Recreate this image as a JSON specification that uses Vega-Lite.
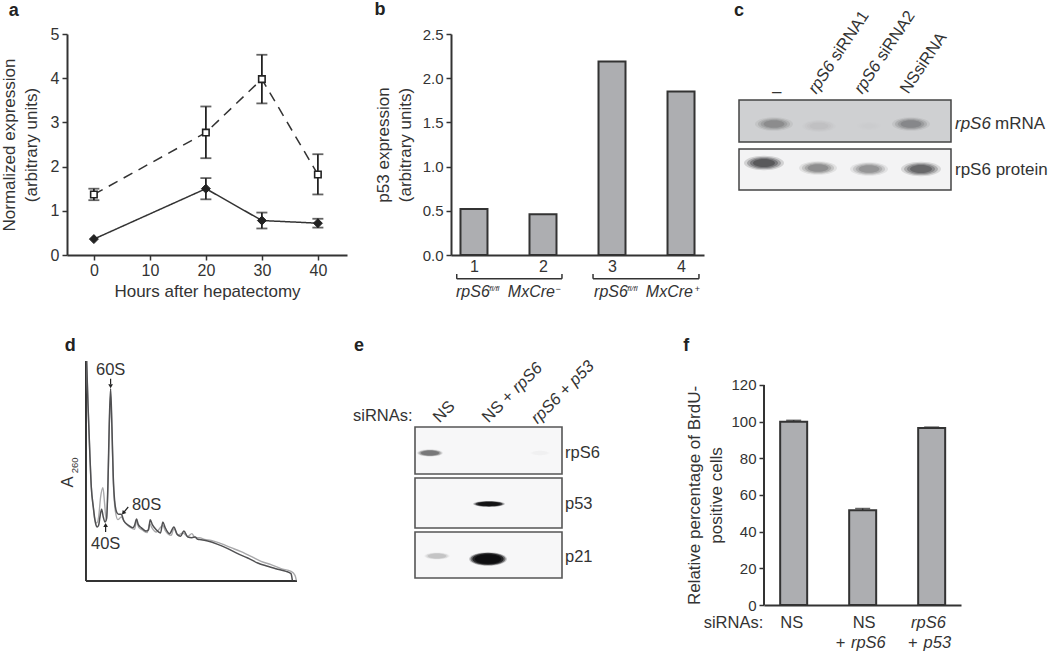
{
"$schema":"https://vega.github.io/schema/vega-lite/v6.json",
"padding":{"left":0,"top":1,"right":0,"bottom":0},
"background":"white",
"columns":6,
"spacing":{"row":106,"column":0},
"bounds":"flush",
"resolve":{"scale":{"shape":"independent","size":"independent","opacity":"independent","fill":"independent","strokeDash":"independent","color":"independent"}},
"config":{
 "view":{"stroke":null},
 "font":"Liberation Sans",
 "axis":{"grid":false,"domainColor":"#333","domainWidth":2,"tickColor":"#333","tickWidth":1.5,"tickSize":5,"labelColor":"#333","titleColor":"#333","labelFont":"Liberation Sans","titleFont":"Liberation Sans","labelFontSize":15,"titleFontSize":17,"titleFontWeight":"normal","labelPadding":3,"labelOverlap":false,"labelFlush":false,"titleLineHeight":22},
 "text":{"font":"Liberation Sans","color":"#333","fontSize":16.5,"align":"left","baseline":"middle"}
},
"datasets":{
 "a":[
  {"x":0,"y":1.37,"s":"open"},{"x":20,"y":2.77,"s":"open"},{"x":30,"y":3.98,"s":"open"},{"x":40,"y":1.82,"s":"open"},
  {"x":0,"y":0.36,"s":"filled"},{"x":20,"y":1.5,"s":"filled"},{"x":30,"y":0.78,"s":"filled"},{"x":40,"y":0.72,"s":"filled"}],
 "aErr":[{"x":0,"y":1.24,"y2":1.5},{"x":20,"y":2.19,"y2":3.36},{"x":30,"y":3.43,"y2":4.53},{"x":40,"y":1.37,"y2":2.28},{"x":20,"y":1.26,"y2":1.74},{"x":30,"y":0.6,"y2":0.96},{"x":40,"y":0.62,"y2":0.82}],
 "aCap":[{"x":0,"y":1.24},{"x":0,"y":1.5},{"x":20,"y":2.19},{"x":20,"y":3.36},{"x":30,"y":3.43},{"x":30,"y":4.53},{"x":40,"y":1.37},{"x":40,"y":2.28},{"x":20,"y":1.26},{"x":20,"y":1.74},{"x":30,"y":0.6},{"x":30,"y":0.96},{"x":40,"y":0.62},{"x":40,"y":0.82}],
 "cBands":[
  {"x":35,"y":90,"len":38,"d":0.42,"form":"fat"},{"x":80,"y":92,"len":34,"d":0.08,"form":"fat"},{"x":130,"y":92,"len":26,"d":0.015,"form":"fat"},{"x":172,"y":90,"len":38,"d":0.45,"form":"fat"},
  {"x":25,"y":129,"len":40,"d":1,"form":"fat"},{"x":79,"y":134,"len":38,"d":0.55,"form":"fat"},{"x":130,"y":135,"len":38,"d":0.5,"form":"fat"},{"x":182,"y":135,"len":40,"d":0.85,"form":"fat"}],
 "eBands":[
  {"x":15,"y":92,"len":26,"d":0.3,"form":"mid"},{"x":74,"y":143,"len":32,"d":0.9,"form":"thin"},{"x":22,"y":195,"len":26,"d":0.1,"form":"mid"},{"x":73,"y":198,"len":38,"d":1,"form":"fat"},{"x":125,"y":92,"len":22,"d":0.012,"form":"mid"}],
 "dDark":[{"x":2,"y":660},{"x":6,"y":532},{"x":12,"y":372},{"x":16,"y":282},{"x":22,"y":222},{"x":28,"y":177},{"x":34,"y":162},{"x":38,"y":167},{"x":42,"y":192},{"x":47,"y":215},{"x":52,"y":192},{"x":57,"y":177},{"x":62,"y":187},{"x":66,"y":292},{"x":70,"y":472},{"x":74,"y":577},{"x":78,"y":462},{"x":82,"y":312},{"x":86,"y":242},{"x":92,"y":207},{"x":98,"y":200},{"x":106,"y":200},{"x":114,"y":180},{"x":128,"y":167},{"x":141,"y":160},{"x":146,"y":167},{"x":152,"y":186},{"x":157,"y":170},{"x":166,"y":160},{"x":181,"y":150},{"x":188,"y":154},{"x":193,"y":184},{"x":199,"y":170},{"x":211,"y":154},{"x":224,"y":144},{"x":231,"y":177},{"x":238,"y":160},{"x":251,"y":142},{"x":264,"y":162},{"x":274,"y":140},{"x":284,"y":134},{"x":294,"y":150},{"x":306,"y":132},{"x":318,"y":130},{"x":328,"y":132},{"x":336,"y":125},{"x":346,"y":124},{"x":366,"y":120},{"x":396,"y":110},{"x":426,"y":97},{"x":456,"y":82},{"x":486,"y":69},{"x":516,"y":54},{"x":546,"y":44},{"x":576,"y":35},{"x":601,"y":29},{"x":616,"y":22},{"x":620,"y":2}],
 "dLight":[{"x":2,"y":660},{"x":6,"y":532},{"x":12,"y":372},{"x":16,"y":282},{"x":22,"y":222},{"x":26,"y":187},{"x":32,"y":174},{"x":38,"y":192},{"x":44,"y":252},{"x":51,"y":280},{"x":56,"y":232},{"x":61,"y":182},{"x":66,"y":282},{"x":70,"y":462},{"x":74,"y":562},{"x":78,"y":452},{"x":82,"y":302},{"x":88,"y":212},{"x":96,"y":184},{"x":106,"y":192},{"x":116,"y":177},{"x":131,"y":162},{"x":146,"y":155},{"x":152,"y":180},{"x":158,"y":162},{"x":171,"y":152},{"x":184,"y":145},{"x":192,"y":172},{"x":198,"y":160},{"x":211,"y":147},{"x":231,"y":167},{"x":238,"y":152},{"x":256,"y":137},{"x":264,"y":157},{"x":276,"y":137},{"x":291,"y":144},{"x":306,"y":134},{"x":318,"y":142},{"x":328,"y":130},{"x":341,"y":130},{"x":356,"y":125},{"x":376,"y":122},{"x":406,"y":112},{"x":436,"y":100},{"x":466,"y":88},{"x":496,"y":74},{"x":526,"y":59},{"x":556,"y":49},{"x":586,"y":37},{"x":616,"y":29},{"x":628,"y":17},{"x":632,"y":2}]
},
"concat":[
 {"width":66,"height":10,"data":{"values":[{"u":0}]},"mark":{"type":"text","opacity":0},"encoding":{"text":{"value":" "}}},
 {"width":280,"height":221,
  "encoding":{
   "x":{"field":"x","type":"quantitative","scale":{"domain":[-4.8,45.2]},"axis":{"values":[0,10,20,30,40],"title":"Hours after hepatectomy","titlePadding":5,"labelFontSize":16,"labelPadding":2}},
   "y":{"field":"y","type":"quantitative","scale":{"domain":[0,5]},"axis":{"values":[0,1,2,3,4,5],"title":["Normalized expression","(arbitrary units)"],"titlePadding":10,"labelFontSize":16}}
  },
  "layer":[
   {"data":{"name":"a"},"mark":{"type":"line","stroke":"#333","strokeWidth":1.5},"encoding":{"detail":{"field":"s"},"strokeDash":{"field":"s","type":"nominal","legend":null,"scale":{"domain":["open","filled"],"range":[[10,7],[1,0]]}}}},
   {"data":{"name":"aErr"},"mark":{"type":"rule","stroke":"#222","strokeWidth":1.8},"encoding":{"y2":{"field":"y2"}}},
   {"data":{"name":"aCap"},"mark":{"type":"tick","orient":"horizontal","size":11,"thickness":1.8,"color":"#222"}},
   {"data":{"name":"a"},"transform":[{"filter":"datum.s==='open'"}],"mark":{"type":"point","shape":"square","filled":true,"opacity":1,"fill":"#fff","stroke":"#222","strokeWidth":1.6,"size":42}},
   {"data":{"name":"a"},"transform":[{"filter":"datum.s==='filled'"}],"mark":{"type":"point","shape":"diamond","filled":true,"opacity":1,"fill":"#222","stroke":"#222","strokeWidth":1,"size":80}},
   {"data":{"values":[{"x":-15.2,"y":5.53,"t":"a"}]},"mark":{"type":"text","fontWeight":"bold","fontSize":18,"color":"#222"},"encoding":{"text":{"field":"t"}}}
  ]},
 {"width":104,"height":10,"data":{"values":[{"u":0}]},"mark":{"type":"text","opacity":0},"encoding":{"text":{"value":" "}}},
 {"width":253,"height":221,
  "encoding":{
   "x":{"field":"x","type":"quantitative","scale":{"domain":[0.667,4.333],"padding":0},"axis":{"values":[1,2,3,4],"ticks":false,"title":null,"labelPadding":3,"labelFontSize":16}},
   "y":{"field":"y","type":"quantitative","scale":{"domain":[0,2.5]},"axis":{"values":[0,0.5,1,1.5,2,2.5],"format":".1f","title":["p53 expression","(arbitrary units)"],"titlePadding":8}}
  },
  "layer":[
   {"data":{"values":[{"x":1,"y":0.52},{"x":2,"y":0.46},{"x":3,"y":2.19},{"x":4,"y":1.85}]},"mark":{"type":"bar","size":27,"fill":"#adaeb1","stroke":"#333","strokeWidth":2}},
   {"data":{"values":[{"x":0.75,"x2":2.275,"y":-0.27,"y2":-0.27},{"x":2.725,"x2":4.26,"y":-0.27,"y2":-0.27},{"x":0.75,"x2":0.75,"y":-0.215,"y2":-0.27},{"x":2.275,"x2":2.275,"y":-0.215,"y2":-0.27},{"x":2.725,"x2":2.725,"y":-0.215,"y2":-0.27},{"x":4.26,"x2":4.26,"y":-0.215,"y2":-0.27}]},"mark":{"type":"rule","stroke":"#333","strokeWidth":1.5},"encoding":{"x2":{"field":"x2"},"y2":{"field":"y2"}}},
   {"data":{"values":[{"x":0.74,"y":-0.42,"t":"rpS6"},{"x":1.49,"y":-0.42,"t":"MxCre"},{"x":2.74,"y":-0.42,"t":"rpS6"},{"x":3.49,"y":-0.42,"t":"MxCre"}]},"mark":{"type":"text","fontStyle":"italic","fontSize":16},"encoding":{"text":{"field":"t"}}},
   {"data":{"values":[{"x":1.22,"y":-0.38,"t":"fl/fl"},{"x":3.22,"y":-0.38,"t":"fl/fl"}]},"mark":{"type":"text","fontStyle":"italic","fontSize":8},"encoding":{"text":{"field":"t"}}},
   {"data":{"values":[{"x":2.18,"y":-0.38,"t":"−"},{"x":4.2,"y":-0.38,"t":"+"}]},"mark":{"type":"text","fontSize":9},"encoding":{"text":{"field":"t"}}},
   {"data":{"values":[{"x":-0.44,"y":2.77,"t":"b"}]},"mark":{"type":"text","fontWeight":"bold","fontSize":18,"color":"#222"},"encoding":{"text":{"field":"t"}}}
  ]},
 {"width":60,"height":10,"data":{"values":[{"u":0}]},"mark":{"type":"text","opacity":0},"encoding":{"text":{"value":" "}}},
 {"width":187,"height":156,
  "resolve":{"scale":{"size":"independent","opacity":"independent"}},
  "encoding":{
   "x":{"field":"x","type":"quantitative","scale":{"domain":[25,212]},"axis":null},
   "y":{"field":"y","type":"quantitative","scale":{"domain":[156,0]},"axis":null}
  },
  "layer":[
   {"data":{"values":[{"x":0,"x2":212,"y":66,"y2":108,"blot":"mRNA"},{"x":0,"x2":212,"y":115,"y2":156,"blot":"protein"}]},"mark":{"type":"rect","stroke":"#444","strokeWidth":1.5},"encoding":{"x2":{"field":"x2"},"y2":{"field":"y2"},"fill":{"field":"blot","type":"nominal","legend":null,"scale":{"domain":["mRNA","protein"],"range":["#cfd0d2","#f3f3f4"]}}}},
   {"data":{"name":"cBands"},"mark":{"type":"point","filled":true,"color":"#1c1c1e"},"encoding":{"size":{"field":"len","type":"quantitative","legend":null,"scale":{"type":"pow","exponent":2,"domain":[0,40],"range":[0,1600]}},"opacity":{"field":"d","type":"quantitative","legend":null,"scale":{"domain":[0,1],"range":[0,0.15]}},"shape":{"field":"form","type":"nominal","legend":null,"scale":{"domain":["fat","mid","thin"],"range":["M-1,0C-1,-0.198,-0.55,-0.36,0,-0.36C0.55,-0.36,1,-0.198,1,0C1,0.198,0.55,0.36,0,0.36C-0.55,0.36,-1,0.198,-1,0Z","M-1,0C-1,-0.154,-0.55,-0.28,0,-0.28C0.55,-0.28,1,-0.154,1,0C1,0.154,0.55,0.28,0,0.28C-0.55,0.28,-1,0.154,-1,0Z","M-1,0C-1,-0.099,-0.55,-0.18,0,-0.18C0.55,-0.18,1,-0.099,1,0C1,0.099,0.55,0.18,0,0.18C-0.55,0.18,-1,0.099,-1,0Z"]}}}},
   {"data":{"name":"cBands"},"mark":{"type":"point","filled":true,"color":"#1c1c1e"},"encoding":{"size":{"field":"len","type":"quantitative","legend":null,"scale":{"type":"pow","exponent":2,"domain":[0,40],"range":[0,1156]}},"opacity":{"field":"d","type":"quantitative","legend":null,"scale":{"domain":[0,1],"range":[0,0.25]}},"shape":{"field":"form","type":"nominal","legend":null,"scale":{"domain":["fat","mid","thin"],"range":["M-1,0C-1,-0.198,-0.55,-0.36,0,-0.36C0.55,-0.36,1,-0.198,1,0C1,0.198,0.55,0.36,0,0.36C-0.55,0.36,-1,0.198,-1,0Z","M-1,0C-1,-0.154,-0.55,-0.28,0,-0.28C0.55,-0.28,1,-0.154,1,0C1,0.154,0.55,0.28,0,0.28C-0.55,0.28,-1,0.154,-1,0Z","M-1,0C-1,-0.099,-0.55,-0.18,0,-0.18C0.55,-0.18,1,-0.099,1,0C1,0.099,0.55,0.18,0,0.18C-0.55,0.18,-1,0.099,-1,0Z"]}}}},
   {"data":{"name":"cBands"},"mark":{"type":"point","filled":true,"color":"#1c1c1e"},"encoding":{"size":{"field":"len","type":"quantitative","legend":null,"scale":{"type":"pow","exponent":2,"domain":[0,40],"range":[0,784]}},"opacity":{"field":"d","type":"quantitative","legend":null,"scale":{"domain":[0,1],"range":[0,0.3]}},"shape":{"field":"form","type":"nominal","legend":null,"scale":{"domain":["fat","mid","thin"],"range":["M-1,0C-1,-0.198,-0.55,-0.36,0,-0.36C0.55,-0.36,1,-0.198,1,0C1,0.198,0.55,0.36,0,0.36C-0.55,0.36,-1,0.198,-1,0Z","M-1,0C-1,-0.154,-0.55,-0.28,0,-0.28C0.55,-0.28,1,-0.154,1,0C1,0.154,0.55,0.28,0,0.28C-0.55,0.28,-1,0.154,-1,0Z","M-1,0C-1,-0.099,-0.55,-0.18,0,-0.18C0.55,-0.18,1,-0.099,1,0C1,0.099,0.55,0.18,0,0.18C-0.55,0.18,-1,0.099,-1,0Z"]}}}},
   {"data":{"name":"cBands"},"mark":{"type":"point","filled":true,"color":"#1c1c1e"},"encoding":{"size":{"field":"len","type":"quantitative","legend":null,"scale":{"type":"pow","exponent":2,"domain":[0,40],"range":[0,484]}},"opacity":{"field":"d","type":"quantitative","legend":null,"scale":{"domain":[0,1],"range":[0,0.35]}},"shape":{"field":"form","type":"nominal","legend":null,"scale":{"domain":["fat","mid","thin"],"range":["M-1,0C-1,-0.198,-0.55,-0.36,0,-0.36C0.55,-0.36,1,-0.198,1,0C1,0.198,0.55,0.36,0,0.36C-0.55,0.36,-1,0.198,-1,0Z","M-1,0C-1,-0.154,-0.55,-0.28,0,-0.28C0.55,-0.28,1,-0.154,1,0C1,0.154,0.55,0.28,0,0.28C-0.55,0.28,-1,0.154,-1,0Z","M-1,0C-1,-0.099,-0.55,-0.18,0,-0.18C0.55,-0.18,1,-0.099,1,0C1,0.099,0.55,0.18,0,0.18C-0.55,0.18,-1,0.099,-1,0Z"]}}}},
   {"data":{"values":[{"x":33,"y":58,"t":"–"},{"x":216,"y":136,"t":"rpS6 protein"},{"x":256,"y":90,"t":"mRNA"}]},"mark":{"type":"text","fontSize":17},"encoding":{"text":{"field":"t"}}},
   {"data":{"values":[{"x":216,"y":90,"t":"rpS6"}]},"mark":{"type":"text","fontSize":17,"fontStyle":"italic"},"encoding":{"text":{"field":"t"}}},
   {"data":{"values":[{"x":73,"y":58,"t":"rpS6"},{"x":119,"y":58,"t":"rpS6"}]},"mark":{"type":"text","fontSize":16.5,"fontStyle":"italic","angle":-56},"encoding":{"text":{"field":"t"}}},
   {"data":{"values":[{"x":95,"y":25,"t":"siRNA1"},{"x":141,"y":25,"t":"siRNA2"},{"x":165,"y":58,"t":"NSsiRNA"}]},"mark":{"type":"text","fontSize":16.5,"angle":-56},"encoding":{"text":{"field":"t"}}},
   {"data":{"values":[{"x":-5,"y":-23,"t":"c"}]},"mark":{"type":"text","fontWeight":"bold","fontSize":18,"color":"#222"},"encoding":{"text":{"field":"t"}}}
  ]},

 {"width":66,"height":10,"data":{"values":[{"u":0}]},"mark":{"type":"text","opacity":0},"encoding":{"text":{"value":" "}}},
 {"width":230,"height":220,
  "encoding":{
   "x":{"field":"x","type":"quantitative","scale":{"domain":[-57,634]},"axis":null},
   "y":{"field":"y","type":"quantitative","scale":{"domain":[0,660]},"axis":null}
  },
  "layer":[
   {"data":{"values":[{"x":0,"y":0,"y2":660}]},"mark":{"type":"rule","stroke":"#333","strokeWidth":2},"encoding":{"y2":{"field":"y2"}}},
   {"data":{"values":[{"x":0,"x2":634,"y":0}]},"mark":{"type":"rule","stroke":"#333","strokeWidth":2},"encoding":{"x2":{"field":"x2"}}},
   {"data":{"name":"dLight"},"mark":{"type":"line","interpolate":"monotone","stroke":"#a9a9ab","strokeWidth":1.4}},
   {"data":{"name":"dDark"},"mark":{"type":"line","interpolate":"monotone","stroke":"#505052","strokeWidth":1.5}},
   {"data":{"values":[{"x":59,"y":147,"x2":59,"y2":165},{"x":74,"y":607,"x2":74,"y2":590},{"x":127,"y":222,"x2":112,"y2":204}]},"mark":{"type":"rule","stroke":"#222","strokeWidth":1.2},"encoding":{"x2":{"field":"x2"},"y2":{"field":"y2"}}},
   {"data":{"values":[{"x":74,"y":584}]},"mark":{"type":"point","shape":"triangle-down","filled":true,"color":"#222","size":22,"opacity":1}},
   {"data":{"values":[{"x":59,"y":168}]},"mark":{"type":"point","shape":"triangle-up","filled":true,"color":"#222","size":22,"opacity":1}},
   {"data":{"values":[{"x":112,"y":204}]},"mark":{"type":"point","shape":"triangle-down","angle":40,"filled":true,"color":"#222","size":22,"opacity":1}},
   {"data":{"values":[{"x":30,"y":632,"t":"60S"},{"x":15,"y":110,"t":"40S"},{"x":138,"y":228,"t":"80S"}]},"mark":{"type":"text","fontSize":16.5},"encoding":{"text":{"field":"t"}}},
   {"data":{"values":[{"x":-55,"y":297,"t":"A"}]},"mark":{"type":"text","fontSize":16.5,"angle":-90,"align":"center"},"encoding":{"text":{"field":"t"}}},
   {"data":{"values":[{"x":-33,"y":347,"t":"260"}]},"mark":{"type":"text","fontSize":9.5,"angle":-90,"align":"center"},"encoding":{"text":{"field":"t"}}},
   {"data":{"values":[{"x":-64,"y":704,"t":"d"}]},"mark":{"type":"text","fontWeight":"bold","fontSize":18,"color":"#222"},"encoding":{"text":{"field":"t"}}}
  ]},
 {"width":104,"height":10,"data":{"values":[{"u":0}]},"mark":{"type":"text","opacity":0},"encoding":{"text":{"value":" "}}},
 {"width":111,"height":217,
  "resolve":{"scale":{"size":"independent","opacity":"independent"}},
  "encoding":{
   "x":{"field":"x","type":"quantitative","scale":{"domain":[36,147]},"axis":null},
   "y":{"field":"y","type":"quantitative","scale":{"domain":[217,0]},"axis":null}
  },
  "layer":[
   {"data":{"values":[{"x":0,"x2":147,"y":66,"y2":113},{"x":0,"x2":147,"y":117,"y2":167},{"x":0,"x2":147,"y":171,"y2":217}]},"mark":{"type":"rect","stroke":"#555","strokeWidth":1.6,"fill":"#f7f7f8"},"encoding":{"x2":{"field":"x2"},"y2":{"field":"y2"}}},
   {"data":{"name":"eBands"},"mark":{"type":"point","filled":true,"color":"#0c0c0e"},"encoding":{"size":{"field":"len","type":"quantitative","legend":null,"scale":{"type":"pow","exponent":2,"domain":[0,40],"range":[0,1600]}},"opacity":{"field":"d","type":"quantitative","legend":null,"scale":{"domain":[0,1],"range":[0,0.2]}},"shape":{"field":"form","type":"nominal","legend":null,"scale":{"domain":["fat","mid","thin"],"range":["M-1,0C-1,-0.198,-0.55,-0.36,0,-0.36C0.55,-0.36,1,-0.198,1,0C1,0.198,0.55,0.36,0,0.36C-0.55,0.36,-1,0.198,-1,0Z","M-1,0C-1,-0.154,-0.55,-0.28,0,-0.28C0.55,-0.28,1,-0.154,1,0C1,0.154,0.55,0.28,0,0.28C-0.55,0.28,-1,0.154,-1,0Z","M-1,0C-1,-0.099,-0.55,-0.18,0,-0.18C0.55,-0.18,1,-0.099,1,0C1,0.099,0.55,0.18,0,0.18C-0.55,0.18,-1,0.099,-1,0Z"]}}}},
   {"data":{"name":"eBands"},"mark":{"type":"point","filled":true,"color":"#0c0c0e"},"encoding":{"size":{"field":"len","type":"quantitative","legend":null,"scale":{"type":"pow","exponent":2,"domain":[0,40],"range":[0,1369]}},"opacity":{"field":"d","type":"quantitative","legend":null,"scale":{"domain":[0,1],"range":[0,0.45]}},"shape":{"field":"form","type":"nominal","legend":null,"scale":{"domain":["fat","mid","thin"],"range":["M-1,0C-1,-0.198,-0.55,-0.36,0,-0.36C0.55,-0.36,1,-0.198,1,0C1,0.198,0.55,0.36,0,0.36C-0.55,0.36,-1,0.198,-1,0Z","M-1,0C-1,-0.154,-0.55,-0.28,0,-0.28C0.55,-0.28,1,-0.154,1,0C1,0.154,0.55,0.28,0,0.28C-0.55,0.28,-1,0.154,-1,0Z","M-1,0C-1,-0.099,-0.55,-0.18,0,-0.18C0.55,-0.18,1,-0.099,1,0C1,0.099,0.55,0.18,0,0.18C-0.55,0.18,-1,0.099,-1,0Z"]}}}},
   {"data":{"name":"eBands"},"mark":{"type":"point","filled":true,"color":"#0c0c0e"},"encoding":{"size":{"field":"len","type":"quantitative","legend":null,"scale":{"type":"pow","exponent":2,"domain":[0,40],"range":[0,1089]}},"opacity":{"field":"d","type":"quantitative","legend":null,"scale":{"domain":[0,1],"range":[0,0.75]}},"shape":{"field":"form","type":"nominal","legend":null,"scale":{"domain":["fat","mid","thin"],"range":["M-1,0C-1,-0.198,-0.55,-0.36,0,-0.36C0.55,-0.36,1,-0.198,1,0C1,0.198,0.55,0.36,0,0.36C-0.55,0.36,-1,0.198,-1,0Z","M-1,0C-1,-0.154,-0.55,-0.28,0,-0.28C0.55,-0.28,1,-0.154,1,0C1,0.154,0.55,0.28,0,0.28C-0.55,0.28,-1,0.154,-1,0Z","M-1,0C-1,-0.099,-0.55,-0.18,0,-0.18C0.55,-0.18,1,-0.099,1,0C1,0.099,0.55,0.18,0,0.18C-0.55,0.18,-1,0.099,-1,0Z"]}}}},
   {"data":{"name":"eBands"},"mark":{"type":"point","filled":true,"color":"#0c0c0e"},"encoding":{"size":{"field":"len","type":"quantitative","legend":null,"scale":{"type":"pow","exponent":2,"domain":[0,40],"range":[0,784]}},"opacity":{"field":"d","type":"quantitative","legend":null,"scale":{"domain":[0,1],"range":[0,0.9]}},"shape":{"field":"form","type":"nominal","legend":null,"scale":{"domain":["fat","mid","thin"],"range":["M-1,0C-1,-0.198,-0.55,-0.36,0,-0.36C0.55,-0.36,1,-0.198,1,0C1,0.198,0.55,0.36,0,0.36C-0.55,0.36,-1,0.198,-1,0Z","M-1,0C-1,-0.154,-0.55,-0.28,0,-0.28C0.55,-0.28,1,-0.154,1,0C1,0.154,0.55,0.28,0,0.28C-0.55,0.28,-1,0.154,-1,0Z","M-1,0C-1,-0.099,-0.55,-0.18,0,-0.18C0.55,-0.18,1,-0.099,1,0C1,0.099,0.55,0.18,0,0.18C-0.55,0.18,-1,0.099,-1,0Z"]}}}},
   {"data":{"values":[{"x":-62,"y":55,"t":"siRNAs:"},{"x":150,"y":92,"t":"rpS6"},{"x":150,"y":143,"t":"p53"},{"x":150,"y":196,"t":"p21"}]},"mark":{"type":"text","fontSize":16.5},"encoding":{"text":{"field":"t"}}},
   {"data":{"values":[{"x":21,"y":59,"t":"NS"},{"x":70,"y":59,"t":"NS +"}]},"mark":{"type":"text","fontSize":16.5,"angle":-45},"encoding":{"text":{"field":"t"}}},
   {"data":{"values":[{"x":100,"y":29,"t":"rpS6"},{"x":119,"y":60,"t":"rpS6 + p53"}]},"mark":{"type":"text","fontSize":16.5,"angle":-45,"fontStyle":"italic"},"encoding":{"text":{"field":"t"}}},
   {"data":{"values":[{"x":-61,"y":-15,"t":"e"}]},"mark":{"type":"text","fontWeight":"bold","fontSize":18,"color":"#222"},"encoding":{"text":{"field":"t"}}}
  ]},
 {"width":60,"height":10,"data":{"values":[{"u":0}]},"mark":{"type":"text","opacity":0},"encoding":{"text":{"value":" "}}},
 {"width":197,"height":244,
  "encoding":{
   "x":{"field":"x","type":"quantitative","scale":{"domain":[0.57,3.425],"padding":0},"axis":{"labels":false,"ticks":false,"title":null}},
   "y":{"field":"y","type":"quantitative","scale":{"domain":[0,133.09]},"axis":{"values":[0,20,40,60,80,100,120],"domain":false,"title":["Relative percentage of BrdU-","positive cells"],"titlePadding":5,"titleY":134}}
  },
  "layer":[
   {"data":{"values":[{"x":0.57,"y":0,"y2":120}]},"mark":{"type":"rule","stroke":"#333","strokeWidth":2},"encoding":{"y2":{"field":"y2"}}},
   {"data":{"values":[{"x":1,"y":100,"y2":100.7},{"x":2,"y":51.7,"y2":52.6},{"x":3,"y":96.5,"y2":97}]},"mark":{"type":"rule","stroke":"#222","strokeWidth":1.5},"encoding":{"y2":{"field":"y2"}}},
   {"data":{"values":[{"x":1,"y":100.7},{"x":2,"y":52.6},{"x":3,"y":97}]},"mark":{"type":"tick","orient":"horizontal","size":15,"thickness":1.6,"color":"#222"}},
   {"data":{"values":[{"x":1,"y":100},{"x":2,"y":51.7},{"x":3,"y":96.5}]},"mark":{"type":"bar","size":27,"fill":"#adaeb1","stroke":"#333","strokeWidth":2}},
   {"data":{"values":[{"x":-0.304,"y":-9.8,"t":"siRNAs:"},{"x":0.806,"y":-9.8,"t":"NS"},{"x":1.855,"y":-9.8,"t":"NS"},{"x":1.61,"y":-20.7,"t":"+"},{"x":2.656,"y":-20.7,"t":"+"}]},"mark":{"type":"text","fontSize":16.5},"encoding":{"text":{"field":"t"}}},
   {"data":{"values":[{"x":1.83,"y":-20.7,"t":"rpS6"},{"x":2.7,"y":-9.8,"t":"rpS6"},{"x":2.883,"y":-20.7,"t":"p53"}]},"mark":{"type":"text","fontSize":16.5,"fontStyle":"italic"},"encoding":{"text":{"field":"t"}}},
   {"data":{"values":[{"x":-0.6,"y":141.3,"t":"f"}]},"mark":{"type":"text","fontWeight":"bold","fontSize":18,"color":"#222"},"encoding":{"text":{"field":"t"}}}
  ]}
]
}
